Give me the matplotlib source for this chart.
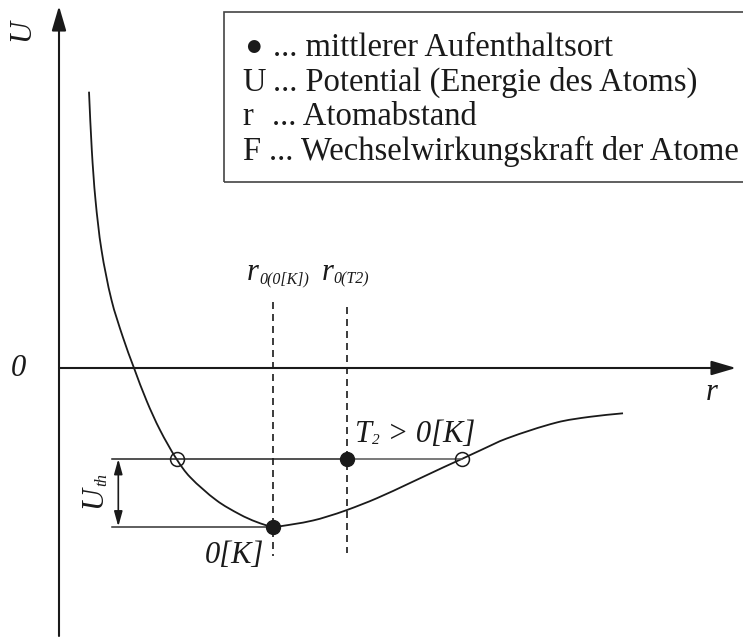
import matplotlib
matplotlib.use("Agg")
import numpy as np
import matplotlib.pyplot as plt
from matplotlib.patches import Rectangle, PathPatch
from matplotlib.path import Path
from matplotlib.transforms import offset_copy

plt.rcParams["font.family"] = ["Liberation Serif", "DejaVu Sans"]

# Potential curve U(r) (arbitrary units, origin at the axes crossing)
r_curve = [30, 32.8, 36.5, 42.5, 52.5, 64, 75, 87.7, 101, 117.5, 131, 157.7,
           181, 197.7, 213.7, 234.3, 254, 267.7, 288, 317.7, 351, 384, 402.7,
           421, 447.7, 497.7, 531, 564]
U_curve = [276.3, 218, 168, 118, 68, 30.5, 0, -33, -62, -91, -109, -132.5,
           -146.5, -154, -158.5, -156.2, -152.5, -148.7, -142, -130.3, -115,
           -99.5, -91, -82.5, -70.5, -54.5, -48.8, -45.3]

# Equilibrium at 0 K and mean position at T2
r0_0K, U_min = 213.7, -158.5
r0_T2, U_T2 = 288.0, -91.0
# Turning points of the oscillation at T2
r_turn = [117.5, 402.7]

# Axis extents
r_axis = (0, 677)
U_axis = (-268, 362)

legend_keys = ["\u25CF", "U", "r", "F"]
legend_desc = ["... mittlerer Aufenthaltsort",
               "... Potential (Energie des Atoms)",
               "... Atomabstand",
               "... Wechselwirkungskraft der Atome"]

INK = "#1a1a1a"

fig = plt.figure(figsize=(7.43, 6.41), dpi=100)
ax = fig.add_axes([0, 0, 1, 1])
ax.set_xlim(-59, 684)
ax.set_ylim(-273, 368)
ax.axis("off")
renderer = fig.canvas.get_renderer()


def smooth_path(xs, ys):
    """Cubic Bezier path through the given points (Catmull-Rom tangents)."""
    P = np.column_stack([xs, ys]).astype(float)
    d = np.hypot(*np.diff(P, axis=0).T)
    t = np.concatenate([[0], np.cumsum(d)])
    T = np.zeros_like(P)
    T[1:-1] = (P[2:] - P[:-2]) / (t[2:] - t[:-2])[:, None]
    T[0] = (P[1] - P[0]) / d[0]
    T[-1] = (P[-1] - P[-2]) / d[-1]
    verts = [P[0]]
    codes = [Path.MOVETO]
    for i in range(len(P) - 1):
        h = d[i] / 3.0
        verts += [P[i] + T[i] * h, P[i + 1] - T[i + 1] * h, P[i + 1]]
        codes += [Path.CURVE4] * 3
    return Path(verts, codes)


def chain(x, y, pieces, rotation=0, color=INK):
    """Write text pieces one after another; each piece is
    (string, fontsize, baseline drop in pixels, italic)."""
    adv = 0.0
    for s, size, drop, italic in pieces:
        if rotation == 0:
            dx, dy = adv, -drop
        else:
            dx, dy = drop, adv
        tr = offset_copy(ax.transData, fig=fig, x=dx, y=dy, units="dots")
        t = ax.text(x, y, s, fontsize=size, transform=tr, ha="left",
                    va="baseline", rotation=rotation, rotation_mode="anchor",
                    style="italic" if italic else "normal", color=color)
        bb = t.get_window_extent(renderer)
        adv += bb.width if rotation == 0 else bb.height


# Axes with arrow heads
for xy, xytext in [((r_axis[1], 0), (r_axis[0], 0)),
                   ((0, U_axis[1]), (0, U_axis[0]))]:
    ax.annotate("", xy=xy, xytext=xytext,
                arrowprops=dict(arrowstyle="-|>,head_length=0.75,head_width=0.22",
                                mutation_scale=20, lw=1.5, color=INK,
                                shrinkA=0, shrinkB=0))

# Potential curve
ax.add_patch(PathPatch(smooth_path(r_curve, U_curve), fill=False, ec=INK,
                       lw=1.3))

# Energy levels
ax.plot([52.7, r0_T2], [U_T2, U_T2], color="#222222", lw=1.1)
ax.plot([r0_T2, r_turn[1]], [U_T2, U_T2], color="#555555", lw=1.1)
ax.plot([52.7, r0_0K], [U_min, U_min], color="#333333", lw=1.1)

# Thermal energy U_th
ax.annotate("", xy=(59.3, U_T2), xytext=(59.3, U_min),
            arrowprops=dict(arrowstyle="<|-|>,head_length=0.9,head_width=0.25",
                            mutation_scale=10, lw=1.2, color=INK,
                            shrinkA=0, shrinkB=0))
chain(42.5, -140, [("U", 22, 0, True), ("th", 12, 5, True)], rotation=90)

# Mean positions
for rv, top, bot in [(r0_0K, 66.3, -188), (r0_T2, 61.3, -185)]:
    ln, = ax.plot([rv, rv], [top, bot], color=INK, lw=1.2)
    ln.set_dashes((4.2, 3))

ax.plot(r_turn, [U_T2, U_T2], ls="none", marker="o", ms=10,
        mfc="none", mec=INK, mew=1.1)
ax.plot([r0_0K, r0_T2], [U_min, U_T2], ls="none", marker="o", ms=10,
        mfc=INK, mec=INK)

# Axis labels
ax.text(-37, 338, "U", fontsize=22, style="italic", rotation=90,
        ha="center", va="center", color=INK)
ax.text(-41, 0, "0", fontsize=22, style="italic", ha="center", va="center",
        color=INK)
ax.text(653, -25, "r", fontsize=22, style="italic", ha="center", va="center",
        color=INK)

# Position labels
chain(188, 88, [("r", 22, 0, True), ("0(0[K])", 11.5, 3, True)])
chain(263, 88, [("r", 22, 0, True), ("0(T2)", 11.5, 3, True)])
chain(296, -73.5, [("T", 22, 0, True), ("2", 11, 3, True),
                   (" > 0[K]", 22, 0, True)])
chain(146, -195, [("0[K]", 22, 0, True)])

# Legend box
ax.add_patch(Rectangle((165, 186), 600, 170, fill=False, ec="#444444",
                       lw=1.2, clip_on=False))
baselines = [312, 277, 243, 208]
desc_x = [214, 214, 213, 210]
for key, desc, yb, xd in zip(legend_keys, legend_desc, baselines, desc_x):
    if key == "\u25CF":
        ax.text(194.5, yb + 10, key, fontsize=12, ha="center", va="center",
                family=["DejaVu Sans"], color=INK)
    else:
        ax.text(183, yb, key, fontsize=23.5, ha="left", va="baseline",
                color=INK)
    ax.text(xd, yb, desc, fontsize=23.5, ha="left", va="baseline", color=INK)

fig.savefig("out.png", dpi=100)
